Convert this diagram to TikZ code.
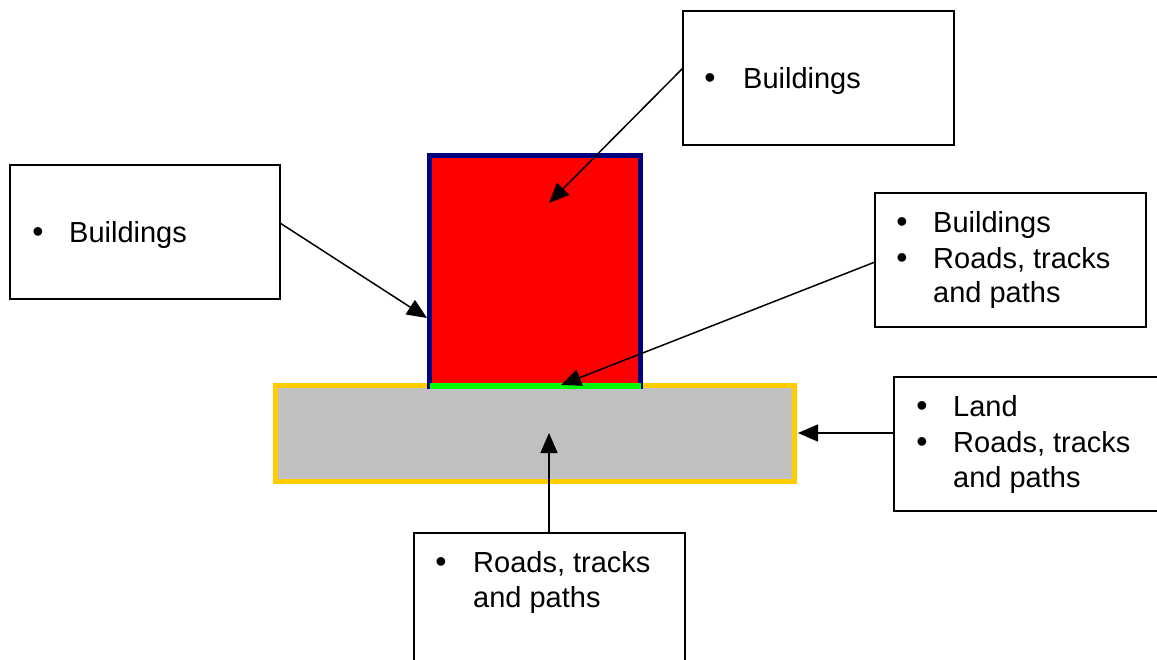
\documentclass[tikz,border=0pt]{standalone}
\usepackage{fontspec}
\setmainfont{Liberation Sans}
\usetikzlibrary{arrows.meta}
\definecolor{navyb}{RGB}{0,0,128}
\definecolor{redf}{RGB}{255,0,0}
\definecolor{grayf}{RGB}{192,192,192}
\definecolor{yellowb}{RGB}{255,204,0}
\definecolor{greenl}{RGB}{0,255,0}
\tikzset{
  callout/.style={draw=black, line width=1.4pt, fill=white, inner sep=0pt, outer sep=0pt, anchor=north west},
  txt/.style={inner sep=0pt, anchor=base west, font=\fontsize{29}{35}\selectfont},
  bul/.style={inner sep=0pt, anchor=base, font=\fontsize{32}{35}\selectfont},
  pointer/.style={draw=black, line width=1.5pt, -{Triangle[length=20pt,width=17pt]}}
}
\begin{document}
\begin{tikzpicture}[x=1pt,y=-1pt]
\clip (0,0) rectangle (1157,660);
\fill[white] (0,0) rectangle (1157,660);
% ground and building
\node[draw=yellowb, fill=grayf, line width=5pt, inner sep=0pt, outer sep=0pt, minimum width=519pt, minimum height=96pt, anchor=north west] (ground) at (275.5,385.5) {};
\node[draw=navyb, fill=redf, line width=5pt, inner sep=0pt, outer sep=0pt, minimum width=211pt, minimum height=230.5pt, anchor=north west] (house) at (429.5,155.5) {};
\draw[greenl, line width=5.5pt] (430,386) -- (641,386);
% callout boxes
\node[callout, minimum width=271pt, minimum height=134pt] (b1) at (683,11) {};
\node[callout, minimum width=270pt, minimum height=134pt] (b2) at (10,165) {};
\node[callout, minimum width=271pt, minimum height=134pt] (b3) at (875,193) {};
\node[callout, minimum width=280pt, minimum height=134pt] (b4) at (894,377) {};
\node[callout, minimum width=271pt, minimum height=140pt] (b5) at (414,533) {};
% texts
\node[bul] (b1d) at (710,89) {•};
\node[txt] (b1t) at (743,89) {Buildings};
\node[bul] (b2d) at (38,243) {•};
\node[txt] (b2t) at (69,243) {Buildings};
\node[bul] (b3d1) at (902,233) {•};
\node[txt] (b3t1) at (933,233) {Buildings};
\node[bul] (b3d2) at (902,269) {•};
\node[txt] (b3t2) at (933,269) {Roads, tracks};
\node[txt] (b3t3) at (933,303) {and paths};
\node[bul] (b4d1) at (922,417) {•};
\node[txt] (b4t1) at (953,417) {Land};
\node[bul] (b4d2) at (922,452) {•};
\node[txt] (b4t2) at (953,452) {Roads, tracks};
\node[txt] (b4t3) at (953,487) {and paths};
\node[bul] (b5d) at (441,572) {•};
\node[txt] (b5t1) at (473,572) {Roads, tracks};
\node[txt] (b5t2) at (473,607) {and paths};
% arrow targets
\coordinate (t1) at (549,203);
\coordinate (t2) at (427,318);
\coordinate (t3) at (561,385);
\coordinate (t4) at (798,433);
\coordinate (t5) at (549,433);
% connectors
\draw[pointer] ([yshift=-57pt]b1.north west) -- (t1);
\draw[pointer] ([yshift=-58pt]b2.north east) -- (t2);
\draw[pointer] ([yshift=-69pt]b3.north west) -- (t3);
\draw[pointer] ([yshift=-56pt]b4.north west) -- (t4);
\draw[pointer] ([xshift=135pt]b5.north west) -- (t5);
\end{tikzpicture}
\end{document}
